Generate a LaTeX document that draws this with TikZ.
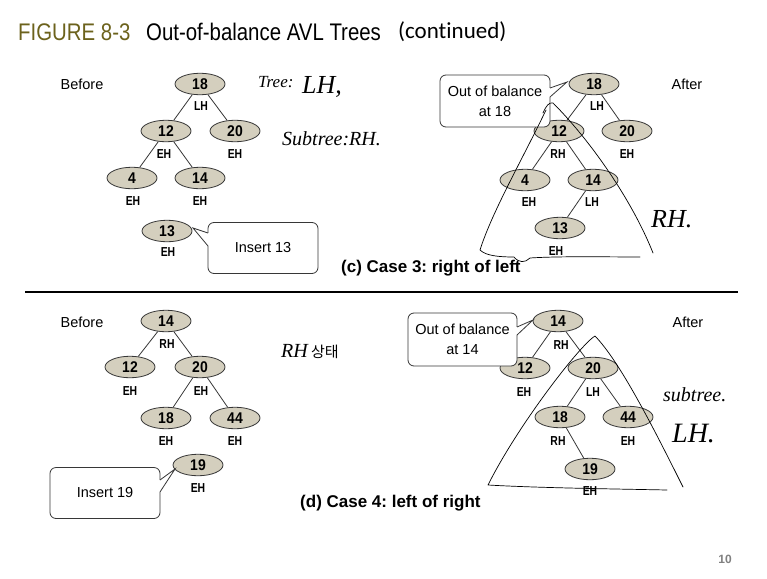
\documentclass[tikz,border=0pt]{standalone}
\usepackage{fontspec}
\setmainfont{Liberation Sans}
\newfontfamily\condf[FakeStretch=0.9]{Liberation Sans}
\newfontfamily\condn[FakeStretch=0.8]{Liberation Sans}
\newfontfamily\titlef[FakeStretch=0.85]{Liberation Sans}
\newfontfamily\hand{Liberation Serif}
\newfontfamily\cjk{Noto Sans CJK KR}
\newfontfamily\calib[Ligatures=NoCommon]{Carlito}
\usetikzlibrary{shapes.geometric}
\definecolor{olive8}{RGB}{108,98,28}
\definecolor{nodefill}{RGB}{212,207,190}
\definecolor{nodeline}{RGB}{55,55,55}
\definecolor{pagegray}{RGB}{128,128,128}
\newcommand\fsz[1]{\fontsize{#1}{#1}\selectfont}
\begin{document}
\frenchspacing
\begin{tikzpicture}[x=1pt,y=-1pt,
  tnode/.style={ellipse, draw=nodeline, line width=0.8pt, fill=nodefill, minimum width=50pt, minimum height=21.5pt, inner sep=0pt, font=\condf\bfseries\fsz{15.5}},
  bal/.style={inner sep=0pt, font=\condn\bfseries\fsz{13}},
  tline/.style={draw=nodeline, line width=0.8pt},
  plain/.style={inner sep=0pt, font=\fsz{14.5}},
  callout/.style={draw=nodeline, line width=0.8pt, fill=white, rounded corners=6pt, minimum width=110pt, minimum height=51pt, inner sep=0pt, align=center, font=\fontsize{14.5}{20}\selectfont},
  caption/.style={inner sep=0pt, anchor=base west, font=\bfseries\fsz{17}},
  handw/.style={inner sep=0pt, anchor=base west},
  ink/.style={draw=black, line width=0.7pt, line cap=round, line join=round},
]
\useasboundingbox (0,0) rectangle (767,578);
\fill[white] (0,0) rectangle (767,578);

% title
\node[anchor=base west, inner sep=0pt, font=\titlef\fsz{24}, text=olive8] (fig) at (18,41) {FIGURE 8-3};
\node[anchor=base west, inner sep=0pt, font=\titlef\fsz{24}] (ttl) at (146,41) {Out-of-balance AVL Trees};
\node[anchor=base west, inner sep=0pt, font=\calib\fsz{23}] (cont) at (398,39) {(continued)};

% ---------- (c) before ----------
\node[plain] (bef1) at (82,84) {Before};
\node[tnode] (a18) at (200,84) {18};
\node[bal] (a18b) at (201,106) {LH};
\node[tnode] (a12) at (166,131) {12};
\node[bal] (a12b) at (164,154) {EH};
\node[tnode] (a20) at (235,131) {20};
\node[bal] (a20b) at (235,154) {EH};
\node[tnode] (a4) at (132,178) {4};
\node[bal] (a4b) at (133,201) {EH};
\node[tnode] (a14) at (200,178) {14};
\node[bal] (a14b) at (200,201) {EH};
\node[tnode] (a13) at (167,231) {13};
\node[bal] (a13b) at (168,252) {EH};
\draw[tline] (a18) -- (a12);
\draw[tline] (a18) -- (a20);
\draw[tline] (a12) -- (a4);
\draw[tline] (a12) -- (a14);

\node[callout] (ins13) at (263,248) {Insert 13};
\coordinate (t13) at (193,228);
\coordinate (t13a) at (208,233);
\coordinate (t13b) at (208,246);
\fill[white] (210,233.5) -- (t13a) -- (t13) -- (t13b) -- (210,245.5) -- cycle;
\draw[tline] (t13a) -- (t13) -- (t13b);

\node[caption] (capc) at (341,272) {(c) Case 3: right of left};

% ---------- (c) after ----------
\node[plain] (aft1) at (687,84) {After};
\node[tnode] (b18) at (594,84) {18};
\node[bal] (b18b) at (597,106) {LH};
\node[tnode] (b12) at (559,131) {12};
\node[bal] (b12b) at (558,154) {RH};
\node[tnode] (b20) at (627,131) {20};
\node[bal] (b20b) at (627,154) {EH};
\node[tnode] (b4) at (525,180) {4};
\node[bal] (b4b) at (529,202) {EH};
\node[tnode] (b14) at (593,180) {14};
\node[bal] (b14b) at (592,202) {LH};
\node[tnode] (b13) at (560,228) {13};
\node[bal] (b13b) at (556,251) {EH};
\draw[tline] (b18) -- (b12);
\draw[tline] (b18) -- (b20);
\draw[tline] (b12) -- (b4);
\draw[tline] (b12) -- (b14);
\draw[tline] (b14) -- (b13);

\node[callout, minimum height=52pt] (ob18) at (495,101) {Out of balance\\at 18};
\coordinate (t18) at (567,82);
\coordinate (t18a) at (550,88);
\coordinate (t18b) at (550,97);
\fill[white] (548,88.5) -- (t18a) -- (t18) -- (t18b) -- (548,96.5) -- cycle;
\draw[tline] (t18a) -- (t18) -- (t18b);

% separator
\coordinate (r1) at (25,292);
\coordinate (r2) at (738,292);
\draw[line width=2.5pt] (r1) -- (r2);

% ---------- (d) before ----------
\node[plain] (bef2) at (82,322) {Before};
\node[tnode] (c14) at (166,321) {14};
\node[bal] (c14b) at (167,344) {RH};
\node[tnode] (c12) at (130,367) {12};
\node[bal] (c12b) at (130,391) {EH};
\node[tnode] (c20) at (200,367) {20};
\node[bal] (c20b) at (201,391) {EH};
\node[tnode] (c18) at (166,418) {18};
\node[bal] (c18b) at (166,441) {EH};
\node[tnode] (c44) at (235,418) {44};
\node[bal] (c44b) at (235,441) {EH};
\node[tnode] (c19) at (198,465) {19};
\node[bal] (c19b) at (198,488) {EH};
\draw[tline] (c14) -- (c12);
\draw[tline] (c14) -- (c20);
\draw[tline] (c20) -- (c18);
\draw[tline] (c20) -- (c44);

\node[callout] (ins19) at (105,493) {Insert 19};
\coordinate (t19) at (175,469);
\coordinate (t19a) at (160,480);
\coordinate (t19b) at (160,492);
\fill[white] (158,480.5) -- (t19a) -- (t19) -- (t19b) -- (158,491.5) -- cycle;
\draw[tline] (t19a) -- (t19) -- (t19b);

\node[caption] (capd) at (300,507) {(d) Case 4: left of right};

% ---------- (d) after ----------
\node[plain] (aft2) at (688,322) {After};
\node[tnode] (d14) at (558,321) {14};
\node[bal] (d14b) at (561,345) {RH};
\node[tnode] (d12) at (525,368) {12};
\node[bal] (d12b) at (524,392) {EH};
\node[tnode] (d20) at (593,368) {20};
\node[bal] (d20b) at (593,392) {LH};
\node[tnode] (d18) at (560,417) {18};
\node[bal] (d18b) at (558,441) {RH};
\node[tnode] (d44) at (628,417) {44};
\node[bal] (d44b) at (628,441) {EH};
\node[tnode] (d19) at (590,469) {19};
\node[bal] (d19b) at (590,491) {EH};
\draw[tline] (d14) -- (d12);
\draw[tline] (d14) -- (d20);
\draw[tline] (d20) -- (d18);
\draw[tline] (d20) -- (d44);
\draw[tline] (d18) -- (d19);

\node[callout, minimum width=109pt, minimum height=53pt] (ob14) at (462.5,339.5) {Out of balance\\at 14};
\coordinate (t14) at (533,320);
\coordinate (t14a) at (517,327);
\coordinate (t14b) at (517,335);
\fill[white] (515,327.5) -- (t14a) -- (t14) -- (t14b) -- (515,334.5) -- cycle;
\draw[tline] (t14a) -- (t14) -- (t14b);

% page number
\node[inner sep=0pt, font=\bfseries\fsz{12}, text=pagegray] (pg) at (725,559) {10};

% ---------- handwriting ----------
\node[handw, font=\hand\itshape\fsz{17}] (hw1) at (258,87) {Tree:};
\node[handw, font=\hand\itshape\fsz{26}] (hw2) at (302,93) {LH,};
\node[handw, font=\hand\itshape\fsz{20}] (hw3) at (282,145) {Subtree:RH.};
\node[handw, font=\hand\itshape\fsz{26}] (hw4) at (651,227) {RH.};
\node[handw, font=\hand\itshape\fsz{20}] (hw5) at (281,357) {RH\,{\cjk\fsz{15}상태}};
\node[handw, font=\hand\itshape\fsz{20}] (hw6) at (663,401) {subtree.};
\node[handw, font=\hand\itshape\fsz{28}] (hw7) at (672,442) {LH.};

% hand-drawn triangles
\draw[ink] (543,113) .. controls (546,106) and (549,102) .. (553,103)
  .. controls (590,140) and (632,200) .. (653,253);
\draw[ink] (546,110) .. controls (522,160) and (492,212) .. (480,250)
  .. controls (486,256) and (500,257) .. (514,257)
  .. controls (519,263) and (525,263) .. (530,258)
  .. controls (560,256) and (610,257) .. (640,257);
\draw[ink] (683,487) .. controls (652,425) and (620,362) .. (595,336)
  .. controls (580,345) and (518,425) .. (488,485)
  .. controls (540,488) and (620,489) .. (667,490);
\end{tikzpicture}
\end{document}
